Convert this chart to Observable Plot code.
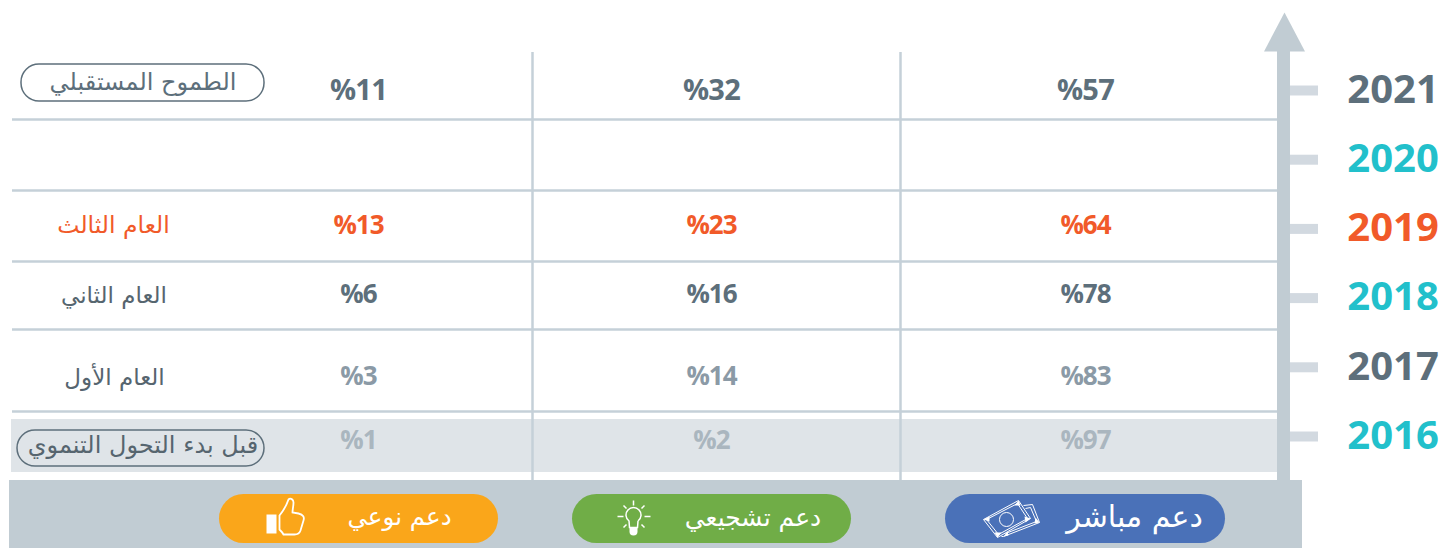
<!DOCTYPE html>
<html lang="ar"><head><meta charset="utf-8">
<style>html,body{margin:0;padding:0;background:#fff}svg{display:block}
svg g[font-size="26"][font-weight="700"]{letter-spacing:-1px}
svg g[font-size="29"][font-weight="700"]{letter-spacing:-.7px}
</style>
<script src="https://cdn.jsdelivr.net/npm/d3@7"></script>
<script src="https://cdn.jsdelivr.net/npm/@observablehq/plot@0.6"></script>
</head><body><div id="chart"></div>
<script>
// ---- data ----
const years = [2021, 2020, 2019, 2018, 2017, 2016];
const directSupport = [57, null, 64, 78, 83, 97];
const encouragingSupport = [32, null, 23, 16, 14, 2];
const qualitativeSupport = [11, null, 13, 6, 3, 1];
const rowLabels = ["الطموح المستقبلي", null, "العام الثالث", "العام الثاني", "العام الأول", "قبل بدء التحول التنموي"];
const supportNames = ["دعم مباشر", "دعم تشجيعي", "دعم نوعي"];

// ---- layout & style (pixel units of the picture) ----
const W = 1446, H = 548;
const row = px => 2016 + (436 - px) / 69.2; // picture row -> year units
const colX = [1085, 711, 358];
const yearColor = {2021:"#5d6f7b",2020:"#22c0cb",2019:"#f15a29",2018:"#22c0cb",2017:"#5d6f7b",2016:"#22c0cb"};
const valueColor = {2021:"#5d6f7b",2019:"#f15a29",2018:"#5d6f7b",2017:"#8b9aa6",2016:"#aab6bf"};
const labelColor = {2021:"#5d6f7b",2019:"#f15a29",2018:"#56656f",2017:"#56656f",2016:"#56656f"};
const valueDy = {2021:0,2019:-3,2018:-3,2017:9,2016:4};
const valueSize = {2021:29,2019:26,2018:26,2017:26,2016:26};
const labelDy = {2021:-8,2019:-3,2018:-2,2017:10,2016:9};
const labelX = {2021:142.5,2019:113,2018:113.5,2017:114,2016:142.5};
const labelSize = {2021:24,2019:23.5,2018:23,2017:23,2016:24};
const sepRows = [119,190,261,329,411];
const gridX = [532,900];
const btn = [{x1:945,x2:1225,fill:"#4a71b8",tx:1134,ix:1011,size:30},{x1:572,x2:851,fill:"#70ad47",tx:752.5,ix:633,size:25},{x1:219,x2:498,fill:"#faa61a",tx:399,ix:285,size:24.5}];
const arabicFont = "'DejaVu Sans','Noto Sans',sans-serif";
const digitFont = "'Open Sans',sans-serif";

// custom glyphs
const poly = (c,p)=>{c.moveTo(...p[0]);p.slice(1).forEach(q=>c.lineTo(...q));c.closePath();};
const arrowHead = {draw(c){poly(c,[[0,-19],[20.5,20],[-20.5,20]]);}};
const money = {draw(c){
  poly(c,[[7,-18],[19,0],[-14,19],[-28,1]]);
  poly(c,[[6,-15],[16,0],[-13,16],[-25,1]]);
  c.moveTo(2,1);c.arc(-5,1,7,0,2*Math.PI);
  c.moveTo(12,-13);c.lineTo(21,-14);c.lineTo(28,4);c.lineTo(-8,18);c.lineTo(-10,18);
  c.moveTo(14,-10);c.lineTo(19,-11);c.lineTo(25,3);c.lineTo(-6,15);
}};
const moneyCorners = {draw(c){
  [[[7,-18],[3,-13],[9,-13]],[[19,0],[13,-2],[14,4]],[[-14,19],[-17,14],[-10,14]],[[-28,1],[-22,-2],[-22,3]],[[28,4],[23,5],[24,-1]],[[-8,18],[-4,13],[-3,17]]].forEach(t=>poly(c,t));
}};
const bulb = {draw(c){
  c.moveTo(4.5,4.5);c.arc(0,-1.5,7.5,0.93,Math.PI-0.93,true);
  c.lineTo(-4,11);c.lineTo(4,11);c.closePath();
  [[0,-16,0,-11],[-16,0,-10,0],[17,0,11,0],[-10,-11,-7,-8],[11,-11,8,-8],[-10,11,-7,8],[11,11,8,8]].forEach(([a,b,d,e])=>{c.moveTo(a,b);c.lineTo(d,e);});
}};
const bulbBase = {draw(c){c.moveTo(-4,11);c.lineTo(4,11);c.lineTo(4,15);c.arc(0,15,4,0,Math.PI);c.closePath();}};
const thumbHand = {draw(c){
  c.moveTo(-6,-2);c.bezierCurveTo(-2,-7,1,-12,3,-18);c.bezierCurveTo(5,-20,8,-18,8,-15);c.bezierCurveTo(8,-11,7,-8,7,-5);
  c.lineTo(13,-4);c.bezierCurveTo(18,-3,19,0,18,3);c.lineTo(15,13);c.bezierCurveTo(14,16,12,17,9,17);c.lineTo(-2,17);c.bezierCurveTo(-3,15,-5,13,-6,12);c.closePath();
}};
const thumbCuff = {draw(c){c.rect(-19,-3,10,19);}};

// build rows
const table = years.map((year,i)=>({year,direct:directSupport[i],enc:encouragingSupport[i],qual:qualitativeSupport[i],label:rowLabels[i]}));
const filled = table.filter(d=>d.label);
const textMarks = filled.flatMap(d=>{
  const vals=[d.direct,d.enc,d.qual];
  return [
    Plot.text(vals.map((v,i)=>({x:colX[i],y:d.year,t:"%"+v})),{x:"x",y:"y",text:"t",dy:valueDy[d.year],fontFamily:digitFont,fontWeight:700,fontSize:valueSize[d.year],fill:valueColor[d.year]}),
    Plot.text([d],{x:()=>labelX[d.year],y:"year",text:"label",dy:labelDy[d.year],fontFamily:arabicFont,fontSize:labelSize[d.year],fill:labelColor[d.year]})
  ];
});

const chart = Plot.plot({
  width:W,height:H,margin:0,
  style:{background:"#fff",overflow:"visible"},
  x:{axis:null,domain:[0,W],range:[0,W]},
  y:{axis:null,domain:[2016,2021],range:[436,90]},
  marks:[
    // highlight row
    Plot.rect([{x1:11,x2:1278,y1:row(419),y2:row(472)}],{x1:"x1",x2:"x2",y1:"y1",y2:"y2",fill:"#dfe4e8"}),
    // grid
    Plot.ruleY(sepRows,{y:row,x1:12,x2:1277,stroke:"#c5d0d8",strokeWidth:2.5}),
    Plot.ruleX(gridX,{y1:row(52),y2:row(480),stroke:"#c5d0d8",strokeWidth:2.5}),
    // axis arrow
    Plot.rect([{x1:1277,x2:1290,y1:row(45),y2:row(482)}],{x1:"x1",x2:"x2",y1:"y1",y2:"y2",fill:"#c1ccd3"}),
    Plot.dot([{x:1284,y:row(31)}],{x:"x",y:"y",symbol:arrowHead,fill:"#c1ccd3",stroke:"none"}),
    // year ticks + labels
    Plot.ruleY(years,{y:d=>d,x1:1290,x2:1318,stroke:"#d2d9e0",strokeWidth:10}),
    Plot.text(years,{x:()=>1392.5,y:d=>d,dy:-0.5,text:d=>String(d),fontFamily:digitFont,fontWeight:700,fontSize:40,fill:d=>yearColor[d]}),
    // bottom band
    Plot.rect([{x1:9,x2:1302,y1:row(480),y2:row(548)}],{x1:"x1",x2:"x2",y1:"y1",y2:"y2",fill:"#c1ccd3"}),
    // pills
    Plot.rect([{x1:21,x2:264,y1:row(64),y2:row(101)},{x1:17,x2:264,y1:row(430),y2:row(466)}],{x1:"x1",x2:"x2",y1:"y1",y2:"y2",rx:18,fill:"none",stroke:"#5d6f7b",strokeWidth:1.5}),
    ...textMarks,
    // support buttons
    Plot.rect(btn,{x1:"x1",x2:"x2",y1:()=>row(494),y2:()=>row(543),rx:24.5,fill:"fill"}),
    ...btn.map((b,i)=>Plot.text([{x:b.tx,name:supportNames[i]}],{x:"x",y:()=>row(517),text:"name",fontFamily:arabicFont,fontSize:b.size,fill:"#fff"})),
    Plot.dot([{x:btn[0].ix,y:row(518)}],{x:"x",y:"y",symbol:money,fill:"none",stroke:"#fff",strokeWidth:1}),
    Plot.dot([{x:btn[0].ix,y:row(518)}],{x:"x",y:"y",symbol:moneyCorners,fill:"#fff",stroke:"none"}),
    Plot.dot([{x:btn[1].ix,y:row(516)}],{x:"x",y:"y",symbol:bulb,fill:"none",stroke:"#fff",strokeWidth:1.5}),
    Plot.dot([{x:btn[1].ix,y:row(516)}],{x:"x",y:"y",symbol:bulbBase,fill:"#fff",stroke:"none"}),
    Plot.dot([{x:btn[2].ix,y:row(517)}],{x:"x",y:"y",symbol:thumbHand,fill:"none",stroke:"#fff",strokeWidth:1.8}),
    Plot.dot([{x:btn[2].ix,y:row(517)}],{x:"x",y:"y",symbol:thumbCuff,fill:"#fff",stroke:"none"})
  ]
});
document.getElementById("chart").append(chart);
</script></body></html>
